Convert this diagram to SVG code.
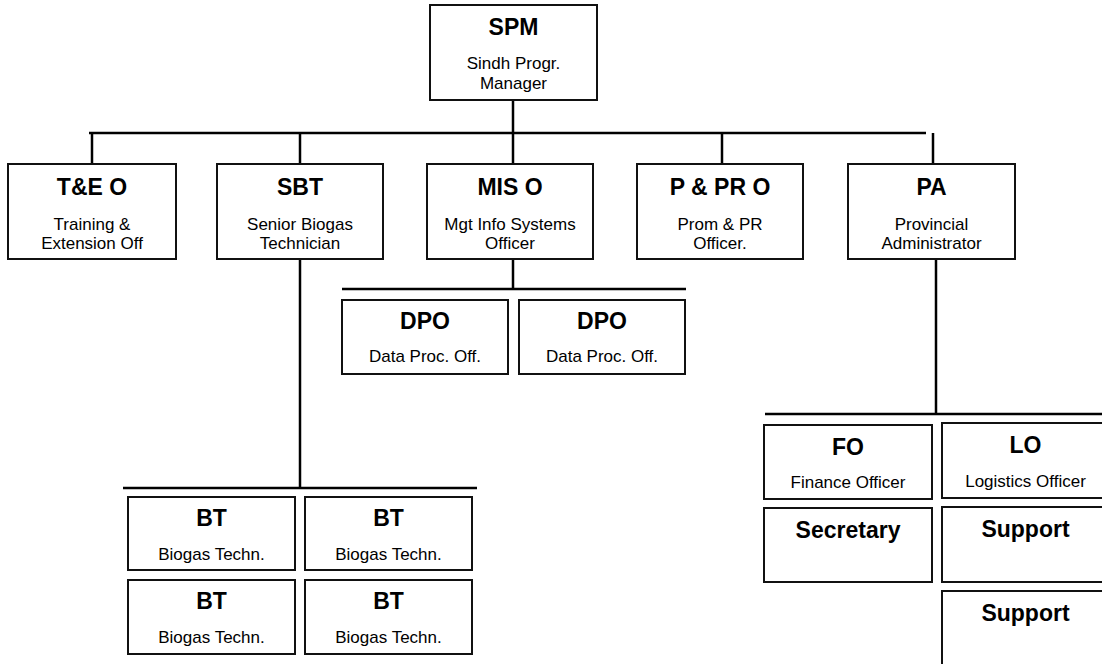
<svg xmlns="http://www.w3.org/2000/svg" width="1102" height="664" viewBox="0 0 1102 664">
<style>
.box{fill:#fff;stroke:#111;stroke-width:2}
.t{font-family:"Liberation Sans",Arial,sans-serif;font-weight:bold;font-size:23px;text-anchor:middle;fill:#000}
.s{font-family:"Liberation Sans",Arial,sans-serif;font-size:17px;text-anchor:middle;fill:#000}
.c{stroke:#000;stroke-width:2.5;fill:none}
</style>
<rect width="1102" height="664" fill="#fff"/>
<g id="connectors">
<line class="c" x1="89" y1="133" x2="926" y2="133"/>
<line class="c" x1="513" y1="100" x2="513" y2="164"/>
<line class="c" x1="92" y1="133" x2="92" y2="164"/>
<line class="c" x1="300" y1="133" x2="300" y2="164"/>
<line class="c" x1="722" y1="133" x2="722" y2="164"/>
<line class="c" x1="933" y1="133" x2="933" y2="164"/>
<line class="c" x1="300" y1="259" x2="300" y2="488"/>
<line class="c" x1="123" y1="488" x2="477" y2="488"/>
<line class="c" x1="513" y1="259" x2="513" y2="289"/>
<line class="c" x1="342" y1="289" x2="686" y2="289"/>
<line class="c" x1="936" y1="259" x2="936" y2="414"/>
<line class="c" x1="765" y1="414" x2="1102" y2="414"/>
</g>
<g id="SPM"><rect class="box" x="430" y="5" width="167" height="95"/><text class="t" x="513.5" y="35">SPM</text><text class="s" x="513.5" y="69">Sindh Progr.</text><text class="s" x="513.5" y="89">Manager</text></g>
<g id="TEO"><rect class="box" x="8" y="164" width="168" height="95"/><text class="t" x="92" y="195">T&amp;E O</text><text class="s" x="92" y="230">Training &amp;</text><text class="s" x="92" y="249">Extension Off</text></g>
<g id="SBT"><rect class="box" x="217" y="164" width="166" height="95"/><text class="t" x="300" y="195">SBT</text><text class="s" x="300" y="230">Senior Biogas</text><text class="s" x="300" y="249">Technician</text></g>
<g id="MISO"><rect class="box" x="427" y="164" width="166" height="95"/><text class="t" x="510" y="195">MIS O</text><text class="s" x="510" y="230">Mgt Info Systems</text><text class="s" x="510" y="249">Officer</text></g>
<g id="PPRO"><rect class="box" x="637" y="164" width="166" height="95"/><text class="t" x="720" y="195">P &amp; PR O</text><text class="s" x="720" y="230">Prom &amp; PR</text><text class="s" x="720" y="249">Officer.</text></g>
<g id="PA"><rect class="box" x="848" y="164" width="167" height="95"/><text class="t" x="931.5" y="195">PA</text><text class="s" x="931.5" y="230">Provincial</text><text class="s" x="931.5" y="249">Administrator</text></g>
<g id="DPO1"><rect class="box" x="342" y="300" width="166" height="74"/><text class="t" x="425" y="329">DPO</text><text class="s" x="425" y="362">Data Proc. Off.</text></g>
<g id="DPO2"><rect class="box" x="519" y="300" width="166" height="74"/><text class="t" x="602" y="329">DPO</text><text class="s" x="602" y="362">Data Proc. Off.</text></g>
<g id="BT1"><rect class="box" x="128" y="497" width="167" height="73"/><text class="t" x="211.5" y="526">BT</text><text class="s" x="211.5" y="560">Biogas Techn.</text></g>
<g id="BT2"><rect class="box" x="305" y="497" width="167" height="73"/><text class="t" x="388.5" y="526">BT</text><text class="s" x="388.5" y="560">Biogas Techn.</text></g>
<g id="BT3"><rect class="box" x="128" y="580" width="167" height="74"/><text class="t" x="211.5" y="609">BT</text><text class="s" x="211.5" y="643">Biogas Techn.</text></g>
<g id="BT4"><rect class="box" x="305" y="580" width="167" height="74"/><text class="t" x="388.5" y="609">BT</text><text class="s" x="388.5" y="643">Biogas Techn.</text></g>
<g id="FO"><rect class="box" x="764" y="425" width="168" height="74"/><text class="t" x="848" y="455">FO</text><text class="s" x="848" y="488">Finance Officer</text></g>
<g id="LO"><rect class="box" x="942" y="423" width="167" height="75"/><text class="t" x="1025.5" y="453">LO</text><text class="s" x="1025.5" y="487">Logistics Officer</text></g>
<g id="Secretary"><rect class="box" x="764" y="508" width="168" height="74"/><text class="t" x="848" y="538">Secretary</text></g>
<g id="Support1"><rect class="box" x="942" y="507" width="167" height="75"/><text class="t" x="1025.5" y="537">Support</text></g>
<g id="Support2"><rect class="box" x="942" y="591" width="167" height="75"/><text class="t" x="1025.5" y="621">Support</text></g>
</svg>
